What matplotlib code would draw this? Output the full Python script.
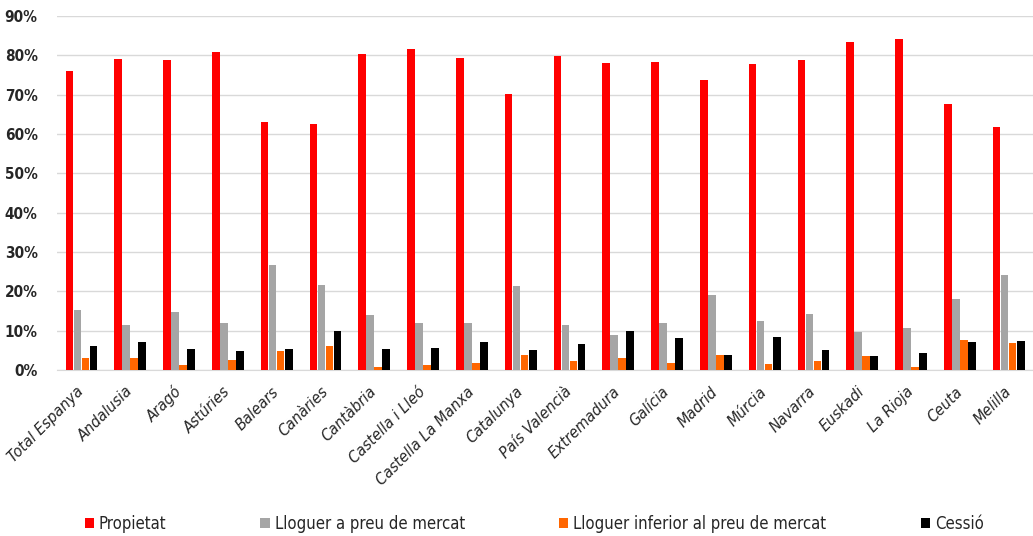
import numpy as np
import matplotlib
matplotlib.use("Agg")
import matplotlib.pyplot as plt
from matplotlib.ticker import FuncFormatter

regions = ["Total Espanya", "Andalusia", "Aragó", "Astúries", "Balears", "Canàries",
           "Cantàbria", "Castella i Lleó", "Castella La Manxa", "Catalunya",
           "País Valencià", "Extremadura", "Galícia", "Madrid", "Múrcia", "Navarra",
           "Euskadi", "La Rioja", "Ceuta", "Melilla"]

propietat = [76.0, 79.0, 78.7, 80.8, 63.1, 62.5, 80.3, 81.7, 79.4, 70.1,
             79.9, 78.1, 78.3, 73.6, 77.9, 78.7, 83.5, 84.2, 67.5, 61.8]
lloguer_mercat = [15.3, 11.4, 14.7, 12.0, 26.7, 21.5, 13.9, 12.0, 12.0, 21.4,
                  11.4, 8.9, 12.0, 19.1, 12.5, 14.2, 9.6, 10.8, 18.1, 24.2]
lloguer_inferior = [3.0, 3.0, 1.2, 2.5, 4.8, 6.1, 0.8, 1.2, 1.7, 3.9,
                    2.3, 3.0, 1.7, 3.9, 1.4, 2.3, 3.6, 0.8, 7.7, 6.9]
cessio = [6.1, 7.0, 5.3, 4.8, 5.3, 10.0, 5.3, 5.5, 7.0, 5.0,
          6.6, 10.0, 8.1, 3.9, 8.4, 5.0, 3.6, 4.3, 7.0, 7.3]

series_names = ["Propietat", "Lloguer a preu de mercat",
                "Lloguer inferior al preu de mercat", "Cessió"]
series_values = [propietat, lloguer_mercat, lloguer_inferior, cessio]
colors = ["#FF0000", "#A5A5A5", "#FF6600", "#000000"]

plt.rcParams["font.family"] = ["DejaVu Sans"]
plt.rcParams["font.stretch"] = "condensed"

fig = plt.figure(figsize=(10.33, 5.36), dpi=100)
ax = fig.add_axes([0.0552, 0.3097, 0.9448, 0.6605])

x = np.arange(len(regions))
width = 0.165
offsets = (np.arange(4) - 1.5) * width
for vals, name, col, off in zip(series_values, series_names, colors, offsets):
    ax.bar(x + off, np.array(vals) / 100.0, width=width * 0.95, color=col,
           label=name, zorder=3)

ax.set_xlim(-0.5, len(regions) - 0.5)
ax.set_ylim(0, 0.9)
ax.set_yticks(np.arange(0, 0.91, 0.1))
ax.yaxis.set_major_formatter(FuncFormatter(lambda v, p: f"{v*100:.0f}%"))
ax.grid(axis="y", color="#D9D9D9", linewidth=1.0, zorder=0)
for s in ["top", "right", "left"]:
    ax.spines[s].set_visible(False)
ax.spines["bottom"].set_color("#D9D9D9")
ax.tick_params(axis="both", length=0)
ax.tick_params(axis="y", labelsize=11, pad=14, labelcolor="#262626")
for lbl in ax.get_yticklabels():
    lbl.set_fontweight("bold")

ax.set_xticks(x)
ax.set_xticklabels(regions, rotation=45, ha="right", va="center",
                   rotation_mode="anchor", fontsize=11.5, fontstyle="italic",
                   color="#262626")
ax.tick_params(axis="x", pad=14)

fig.legend(loc="lower center", bbox_to_anchor=(0.517, -0.022), ncol=4,
           frameon=False, fontsize=12, handlelength=0.55, handleheight=0.55,
           handletextpad=0.3, columnspacing=5.65, labelcolor="#262626")

fig.savefig("out.png", dpi=100)
